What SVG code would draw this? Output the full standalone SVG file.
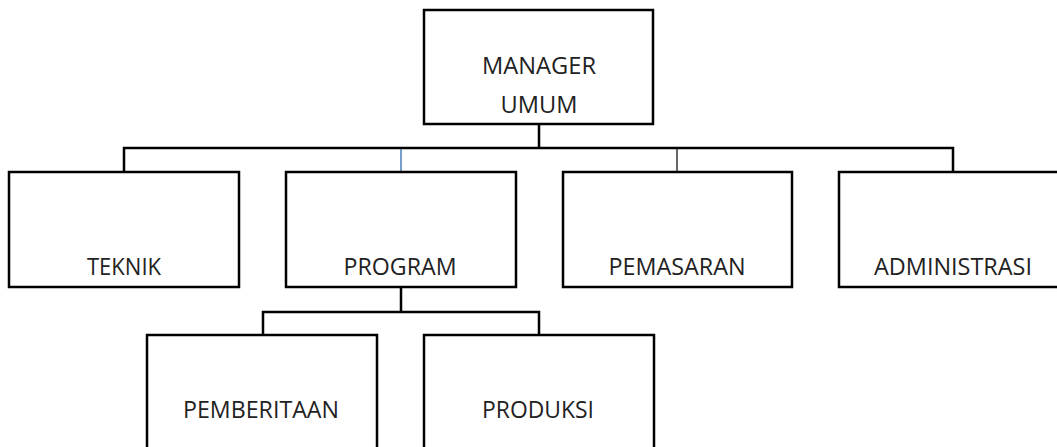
<svg xmlns="http://www.w3.org/2000/svg" width="1057" height="447" viewBox="0 0 1057 447">
<style>
.box{fill:#fff;stroke:#000;stroke-width:2.5}
.lbl{font-family:"Open Sans","Liberation Sans",sans-serif;font-size:23px;fill:#222;text-anchor:middle}
.c{fill:none;stroke:#000;stroke-width:2.5}
.thin{fill:none;stroke:#000;stroke-width:1.2}
.blue{fill:none;stroke:#4a7ebb;stroke-width:1.5}
</style>
<rect width="1057" height="447" fill="#fff"/>
<g id="connectors">
<line class="c" x1="539" y1="124" x2="539" y2="148"/>
<polyline class="c" points="124,172 124,148 953,148 953,172"/>
<line class="blue" x1="401" y1="149" x2="401" y2="172"/>
<line class="thin" x1="677" y1="149" x2="677" y2="172"/>
<line class="c" x1="401" y1="287" x2="401" y2="312"/>
<polyline class="c" points="263,335 263,312 539,312 539,335"/>
</g>
<g id="manager"><rect class="box" x="424" y="10" width="229" height="114"/>
<text class="lbl" x="539" y="74" textLength="114" lengthAdjust="spacingAndGlyphs">MANAGER</text>
<text class="lbl" x="539" y="113" textLength="77" lengthAdjust="spacingAndGlyphs">UMUM</text></g>
<g id="teknik"><rect class="box" x="9" y="172" width="230" height="115"/>
<text class="lbl" x="124" y="275" textLength="74" lengthAdjust="spacingAndGlyphs">TEKNIK</text></g>
<g id="program"><rect class="box" x="286" y="172" width="230" height="115"/>
<text class="lbl" x="400" y="275" textLength="113" lengthAdjust="spacingAndGlyphs">PROGRAM</text></g>
<g id="pemasaran"><rect class="box" x="563" y="172" width="229" height="115"/>
<text class="lbl" x="677" y="275" textLength="137" lengthAdjust="spacingAndGlyphs">PEMASARAN</text></g>
<g id="administrasi"><rect class="box" x="839" y="172" width="230" height="115"/>
<text class="lbl" x="953" y="275" textLength="158" lengthAdjust="spacingAndGlyphs">ADMINISTRASI</text></g>
<g id="pemberitaan"><rect class="box" x="147" y="335" width="230" height="130"/>
<text class="lbl" x="261" y="418" textLength="156" lengthAdjust="spacingAndGlyphs">PEMBERITAAN</text></g>
<g id="produksi"><rect class="box" x="424" y="335" width="230" height="130"/>
<text class="lbl" x="538" y="418" textLength="112" lengthAdjust="spacingAndGlyphs">PRODUKSI</text></g>
</svg>
